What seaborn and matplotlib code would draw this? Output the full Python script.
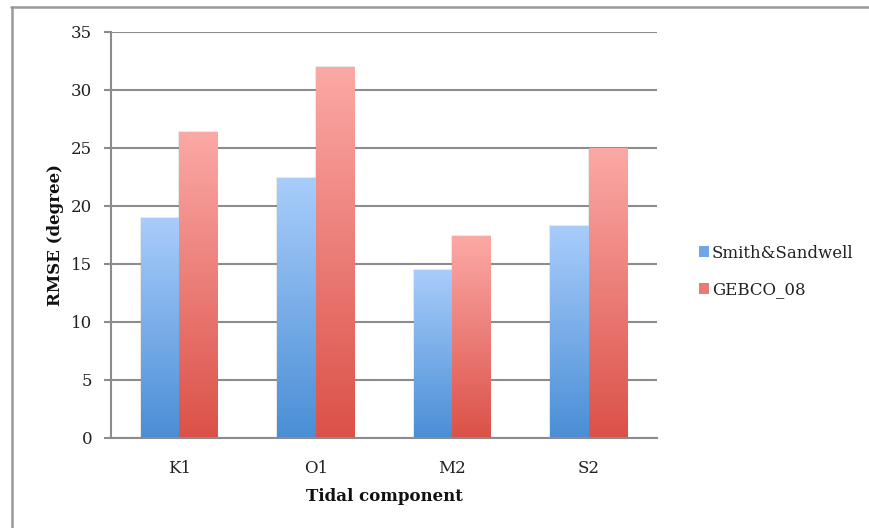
import numpy as np
import pandas as pd
import matplotlib
matplotlib.use("Agg")
import matplotlib.pyplot as plt
import matplotlib.colors as mcolors
from matplotlib.patches import Patch
from matplotlib.lines import Line2D
import seaborn as sns

categories = ["K1", "O1", "M2", "S2"]
series_names = ["Smith&Sandwell", "GEBCO_08"]
smith_sandwell = [19.0, 22.4, 14.5, 18.3]
gebco_08 = [26.4, 32.0, 17.4, 25.0]
y_ticks = [0, 5, 10, 15, 20, 25, 30, 35]

df = pd.DataFrame({
    "component": categories * 2,
    "series": [series_names[0]] * 4 + [series_names[1]] * 4,
    "rmse": smith_sandwell + gebco_08,
})

sns.set_theme(style="white")
plt.rcParams["font.family"] = ["DejaVu Serif"]

grad = {
    series_names[0]: ("#a9cdfb", "#4a8ed6"),
    series_names[1]: ("#fca9a6", "#db5148"),
}
base = {series_names[0]: "#6fa6ea", series_names[1]: "#ec7a74"}

fig = plt.figure(figsize=(8.69, 5.28), dpi=100)
ax = fig.add_axes([0.1277, 0.1705, 0.6283, 0.7689])

sns.barplot(data=df, x="component", y="rmse", hue="series",
            hue_order=series_names, order=categories,
            palette=base, saturation=1, width=0.56, gap=0, ax=ax, legend=False,
            edgecolor="none", linewidth=0)

# gradient fill for each bar (patches come per hue level, in order)
bars = [p for p in ax.patches if p.get_height() > 0]
n = len(categories)
for i, p in enumerate(bars):
    s = series_names[i // n]
    top, bot = grad[s]
    cmap = mcolors.LinearSegmentedColormap.from_list("g", [bot, top])
    x0, y0 = p.get_x(), p.get_y()
    w, h = p.get_width(), p.get_height()
    g = np.linspace(0, 1, 256).reshape(-1, 1)
    im = ax.imshow(g, cmap=cmap, origin="lower", aspect="auto",
                   extent=[x0, x0 + w, y0, y0 + h], zorder=2,
                   interpolation="bilinear")
    im.set_clip_path(p)
    p.set_facecolor("none")
    p.set_edgecolor((0.6, 0.6, 0.6, 0.25))
    p.set_linewidth(1.2)
    p.set_zorder(1.9)

ax.set_xlim(-0.5, 3.5)
ax.set_ylim(0, 35)
ax.set_yticks(y_ticks)
ax.yaxis.grid(True, color="#8c8c8c", linewidth=1.5)
ax.set_axisbelow(True)

for side in ["top", "right"]:
    ax.spines[side].set_visible(False)
for side in ["left", "bottom"]:
    ax.spines[side].set_color("#8c8c8c")
    ax.spines[side].set_linewidth(1.5)
    ax.spines[side].set_zorder(3)

ax.tick_params(axis="y", which="both", left=True, length=5, width=1.5,
               color="#8c8c8c", labelsize=12, pad=8.5, labelcolor="#222222")
ax.tick_params(axis="x", which="both", bottom=False, labelsize=12,
               pad=10, labelcolor="#222222")

ax.set_xlabel("Tidal component", fontsize=12, fontweight="bold",
              labelpad=8, color="#111111")
ax.set_ylabel("RMSE (degree)", fontsize=12, fontweight="bold",
              labelpad=5, color="#111111")

handles = [Patch(facecolor=base[s], edgecolor="none", label=s) for s in series_names]
leg = ax.legend(handles=handles, loc="center left", bbox_to_anchor=(1.05, 0.41),
                frameon=False, fontsize=12, handlelength=0.6, handleheight=0.6,
                handletextpad=0.15, labelspacing=1.2)
for t in leg.get_texts():
    t.set_color("#222222")

# partial outer frame (top and left)
fig.add_artist(Line2D([11 / 869, 1.0], [1 - 6.5 / 528, 1 - 6.5 / 528],
                      transform=fig.transFigure, color="#999999", linewidth=1.8))
fig.add_artist(Line2D([11.5 / 869, 11.5 / 869], [0, 1 - 6.5 / 528],
                      transform=fig.transFigure, color="#999999", linewidth=1.8))

fig.savefig("out.png", dpi=100)
